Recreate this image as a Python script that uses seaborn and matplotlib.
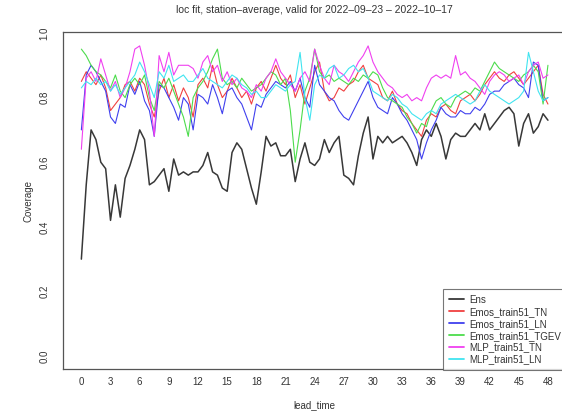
import numpy as np
import pandas as pd
import matplotlib
matplotlib.use("Agg")
import matplotlib.pyplot as plt
import seaborn as sns

# lead time in hours, half-hour steps
lead_time = np.arange(0, 48.5, 0.5)

ens = [0.30, 0.53, 0.70, 0.67, 0.60, 0.58, 0.42, 0.53, 0.43, 0.55,
       0.59, 0.64, 0.70, 0.67, 0.53, 0.54, 0.56, 0.58, 0.51, 0.61,
       0.56, 0.57, 0.56, 0.57, 0.57, 0.59, 0.63, 0.57, 0.56, 0.52,
       0.51, 0.63, 0.66, 0.64, 0.58, 0.52, 0.47, 0.57, 0.68, 0.65,
       0.66, 0.62, 0.62, 0.64, 0.54, 0.61, 0.66, 0.60, 0.59, 0.61,
       0.67, 0.63, 0.66, 0.68, 0.56, 0.55, 0.53, 0.62, 0.69, 0.74,
       0.61, 0.68, 0.66, 0.68, 0.66, 0.67, 0.68, 0.66, 0.63, 0.59,
       0.67, 0.70, 0.68, 0.72, 0.68, 0.61, 0.67, 0.69, 0.68, 0.68,
       0.70, 0.72, 0.70, 0.75, 0.70, 0.72, 0.74, 0.76, 0.77, 0.75,
       0.65, 0.72, 0.75, 0.69, 0.71, 0.75, 0.73]

emos_tn = [0.85, 0.88, 0.86, 0.84, 0.87, 0.83, 0.76, 0.78, 0.80, 0.84,
           0.85, 0.82, 0.86, 0.84, 0.78, 0.74, 0.82, 0.86, 0.80, 0.84,
           0.79, 0.83, 0.80, 0.74, 0.84, 0.86, 0.83, 0.90, 0.84, 0.80,
           0.82, 0.86, 0.83, 0.80, 0.82, 0.78, 0.83, 0.85, 0.82, 0.86,
           0.90, 0.86, 0.84, 0.87, 0.80, 0.84, 0.78, 0.83, 0.88, 0.91,
           0.82, 0.79, 0.80, 0.83, 0.82, 0.84, 0.85, 0.88, 0.90, 0.86,
           0.85, 0.84, 0.80, 0.79, 0.82, 0.78, 0.76, 0.75, 0.72, 0.70,
           0.68, 0.73, 0.75, 0.74, 0.77, 0.78, 0.76, 0.75, 0.79, 0.80,
           0.81, 0.79, 0.81, 0.84, 0.86, 0.88, 0.86, 0.85, 0.87, 0.88,
           0.86, 0.84, 0.86, 0.88, 0.90, 0.81, 0.78]

emos_ln = [0.70, 0.87, 0.90, 0.88, 0.85, 0.82, 0.74, 0.72, 0.78, 0.77,
           0.84, 0.81, 0.85, 0.79, 0.76, 0.68, 0.84, 0.83, 0.80, 0.77,
           0.73, 0.80, 0.78, 0.70, 0.81, 0.80, 0.78, 0.84, 0.80, 0.75,
           0.82, 0.83, 0.80, 0.78, 0.74, 0.70, 0.78, 0.77, 0.81, 0.83,
           0.85, 0.84, 0.83, 0.85, 0.82, 0.86, 0.80, 0.77, 0.90, 0.84,
           0.82, 0.80, 0.79, 0.76, 0.74, 0.73, 0.76, 0.79, 0.82, 0.85,
           0.80, 0.77, 0.76, 0.75, 0.80, 0.78, 0.75, 0.73, 0.70, 0.67,
           0.61, 0.66, 0.70, 0.73, 0.77, 0.75, 0.74, 0.74, 0.76, 0.75,
           0.75, 0.77, 0.76, 0.78, 0.81, 0.82, 0.82, 0.84, 0.85, 0.86,
           0.84, 0.83, 0.80, 0.91, 0.90, 0.79, 0.80]

emos_tgev = [0.95, 0.93, 0.90, 0.88, 0.87, 0.85, 0.83, 0.87, 0.82, 0.80,
             0.84, 0.86, 0.84, 0.87, 0.80, 0.76, 0.85, 0.83, 0.86, 0.82,
             0.78, 0.74, 0.68, 0.80, 0.83, 0.85, 0.88, 0.92, 0.95, 0.86,
             0.84, 0.85, 0.83, 0.86, 0.84, 0.82, 0.83, 0.84, 0.86, 0.88,
             0.87, 0.84, 0.86, 0.76, 0.60, 0.70, 0.82, 0.86, 0.95, 0.88,
             0.86, 0.87, 0.85, 0.86, 0.85, 0.84, 0.86, 0.85, 0.87, 0.86,
             0.88, 0.87, 0.83, 0.80, 0.79, 0.78, 0.77, 0.74, 0.72, 0.69,
             0.72, 0.71, 0.76, 0.79, 0.80, 0.78, 0.77, 0.80, 0.81, 0.82,
             0.81, 0.83, 0.82, 0.85, 0.88, 0.91, 0.89, 0.88, 0.87, 0.86,
             0.85, 0.87, 0.88, 0.90, 0.88, 0.78, 0.90]

mlp_tn = [0.64, 0.86, 0.88, 0.85, 0.92, 0.87, 0.82, 0.85, 0.80, 0.83,
          0.88, 0.95, 0.96, 0.90, 0.82, 0.68, 0.93, 0.88, 0.94, 0.87,
          0.90, 0.90, 0.90, 0.89, 0.86, 0.91, 0.93, 0.88, 0.90, 0.85,
          0.88, 0.84, 0.86, 0.83, 0.82, 0.80, 0.84, 0.82, 0.86, 0.88,
          0.92, 0.88, 0.86, 0.84, 0.82, 0.86, 0.88, 0.85, 0.95, 0.90,
          0.86, 0.84, 0.90, 0.88, 0.87, 0.85, 0.88, 0.91, 0.93, 0.96,
          0.91, 0.88, 0.86, 0.84, 0.83, 0.81, 0.80, 0.81, 0.79, 0.80,
          0.79, 0.83, 0.86, 0.87, 0.86, 0.87, 0.86, 0.93, 0.87, 0.88,
          0.86, 0.85, 0.83, 0.81, 0.85, 0.87, 0.88, 0.87, 0.85, 0.86,
          0.87, 0.84, 0.88, 0.90, 0.91, 0.86, 0.87]

mlp_ln = [0.83, 0.85, 0.84, 0.86, 0.84, 0.85, 0.82, 0.84, 0.81, 0.83,
          0.85, 0.87, 0.91, 0.88, 0.84, 0.80, 0.88, 0.86, 0.90, 0.85,
          0.86, 0.87, 0.85, 0.85, 0.87, 0.89, 0.86, 0.85, 0.84, 0.83,
          0.85, 0.87, 0.86, 0.84, 0.83, 0.81, 0.82, 0.80, 0.80, 0.82,
          0.84, 0.83, 0.82, 0.84, 0.85, 0.94, 0.80, 0.73, 0.84, 0.87,
          0.86, 0.89, 0.90, 0.86, 0.87, 0.89, 0.90, 0.88, 0.89, 0.86,
          0.82, 0.81, 0.80, 0.79, 0.81, 0.80, 0.78, 0.77, 0.75, 0.74,
          0.73, 0.75, 0.76, 0.75, 0.78, 0.79, 0.80, 0.81, 0.80, 0.79,
          0.78, 0.79, 0.82, 0.84, 0.82, 0.81, 0.80, 0.79, 0.78, 0.79,
          0.80, 0.82, 0.94, 0.88, 0.82, 0.79, 0.80]

models = ["Ens", "Emos_train51_TN", "Emos_train51_LN", "Emos_train51_TGEV",
          "MLP_train51_TN", "MLP_train51_LN"]
colors = ["#383838", "#f04040", "#4040ee", "#4cdc4c", "#f040f0", "#40e4f0"]

df = pd.DataFrame({"lead_time": lead_time, "Ens": ens,
                   "Emos_train51_TN": emos_tn, "Emos_train51_LN": emos_ln,
                   "Emos_train51_TGEV": emos_tgev, "MLP_train51_TN": mlp_tn,
                   "MLP_train51_LN": mlp_ln})
long_df = df.melt(id_vars="lead_time", var_name="model", value_name="coverage")

sns.set_style("white")
plt.rcParams["font.family"] = ["Liberation Sans", "DejaVu Sans"]

fig = plt.figure(figsize=(5.62, 4.15), dpi=100)
ax = fig.add_axes([62.7 / 562, 46 / 415, (566.6 - 62.7) / 562, 337 / 415])

sns.lineplot(data=long_df, x="lead_time", y="coverage", hue="model",
             hue_order=models, palette=dict(zip(models, colors)),
             estimator=None, linewidth=0.8, ax=ax, legend=False)
# black line drawn a touch heavier
ax.lines[0].set_linewidth(1.1)

ax.set_xlim(-1.92, 49.92)
ax.set_ylim(-0.04, 1.003)
ax.set_xticks(range(0, 49, 3))
ax.set_yticks([0.0, 0.2, 0.4, 0.6, 0.8, 1.0])
ax.set_yticklabels(["0.0", "0.2", "0.4", "0.6", "0.8", "1.0"])
ax.tick_params(axis="both", direction="out", length=3.6, width=0.8,
               colors="#555555", labelcolor="#333333", labelsize=7)
ax.tick_params(axis="x", pad=2.5)
ax.tick_params(axis="y", pad=6, labelrotation=90)
for lab in ax.get_yticklabels():
    lab.set_va("center")
for sp in ax.spines.values():
    sp.set_color("#555555")
    sp.set_linewidth(0.9)

ax.set_xlabel("lead_time", fontsize=7, color="#333333", labelpad=9.4)
ax.set_ylabel("Coverage", fontsize=7, color="#333333", labelpad=4.2)
fig.text(314.6 / 562, 1 - 10 / 415,
         "loc fit, station\u2013average, valid for 2022\u201309\u201323 \u2013 2022\u201310\u201317",
         ha="center", va="center", fontsize=7.5, color="#333333")

handles = [plt.Line2D([], [], color=c, lw=1.3) for c in colors]
leg = ax.legend(handles, models, loc="upper left",
                bbox_to_anchor=(443 / 562, 1 - 289 / 415),
                bbox_transform=fig.transFigure, fontsize=7, frameon=True,
                fancybox=False, edgecolor="#555555", borderaxespad=0,
                borderpad=0.6, labelspacing=0.2, handlelength=1.6,
                handletextpad=0.5)
leg.get_frame().set_linewidth(0.8)
for t in leg.get_texts():
    t.set_color("#333333")

fig.savefig("out.png", dpi=100)
